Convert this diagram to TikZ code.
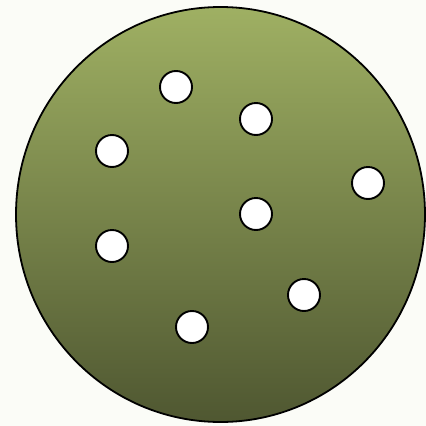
\documentclass[tikz,border=0pt]{standalone}
\usepackage{tikz}
\usetikzlibrary{positioning}
\definecolor{bgcol}{HTML}{FBFCF7}
\definecolor{dishtop}{HTML}{9FB063}
\definecolor{dishbot}{HTML}{4F5731}
\tikzset{
  dish/.style={draw=black, line width=1.8pt, top color=dishtop, bottom color=dishbot},
  hole/.style={circle, draw=black, line width=1.9pt, fill=white, minimum size=32pt, inner sep=0pt}
}

\begin{document}
\begin{tikzpicture}[x=1pt, y=-1pt]
  \fill[bgcol] (0,0) rectangle (426,426);
  \useasboundingbox (0,0) rectangle (426,426);
  \draw[dish] (220.5,214.5) ellipse (204.5 and 207.5);
  \foreach \x/\y [count=\i] in {176/87, 256/119, 112/151, 368/183, 256/214, 112/246, 304/295, 192/327}
    \node[hole] (h\i) at (\x,\y) {};
\end{tikzpicture}
\end{document}
